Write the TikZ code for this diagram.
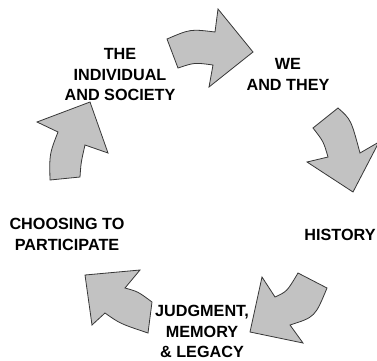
\documentclass[tikz,border=0pt]{standalone}
\usepackage{fontspec}
\setmainfont{Liberation Sans}
\definecolor{arrowgray}{RGB}{194,194,194}
\definecolor{arrowedge}{RGB}{55,55,55}
\begin{document}
\begin{tikzpicture}[x=1pt,y=-1pt,
  arr/.style={fill=arrowgray, draw=arrowedge, line width=0.8pt, line join=miter},
  lbl/.style={font=\fontsize{16.2}{20.2}\selectfont\bfseries, align=center, inner sep=0pt, text=black}]
\useasboundingbox (0,0) rectangle (377,360);
% arrow 1 (top, pointing right)
\draw[arr] (167,39) .. controls (190.4,29) .. (215,32) -- (218,9) -- (253,52) -- (209,87) -- (213,65)
  .. controls (194.5,62.5) .. (178,68) -- cycle;
% arrow 2 (right, pointing down)
\draw[arr] (313,128) -- (338,108) .. controls (351,119.5) .. (360,153) -- (379,142) -- (353,192) -- (307,162) -- (328,157)
  .. controls (323.5,141.5) .. cycle;
% arrow 3 (bottom right, pointing down-left)
\draw[arr] (298,273) -- (327,288) .. controls (315,317) .. (290,325) -- (303,343) -- (250,332) -- (262,277) -- (275,297)
  .. controls (287,291.5) .. cycle;
% arrow 4 (bottom left, pointing up-left)
\draw[arr] (85,275) -- (140,270) -- (125,288) .. controls (138,291.6) .. (152,302) -- (148,333)
  .. controls (120,323.6) .. (105,313) -- (92,325) -- cycle;
% arrow 5 (left, pointing up)
\draw[arr] (90,102) -- (108,153) -- (85,145) .. controls (81,162.4) .. (80,177) -- (50,180)
  .. controls (49.4,154) .. (58,132) -- (37,122) -- cycle;
% labels
\node[lbl] (ind) at (120,74.5) {THE\\INDIVIDUAL\\AND SOCIETY};
\node[lbl] (we) at (288,74.5) {WE\\AND THEY};
\node[lbl] (hist) at (340,235) {HISTORY};
\node[lbl] (jud) at (202,331.5) {JUDGMENT,\\MEMORY\\\& LEGACY};
\node[lbl] (choose) at (67,234.5) {CHOOSING TO\\PARTICIPATE};
\end{tikzpicture}
\end{document}
